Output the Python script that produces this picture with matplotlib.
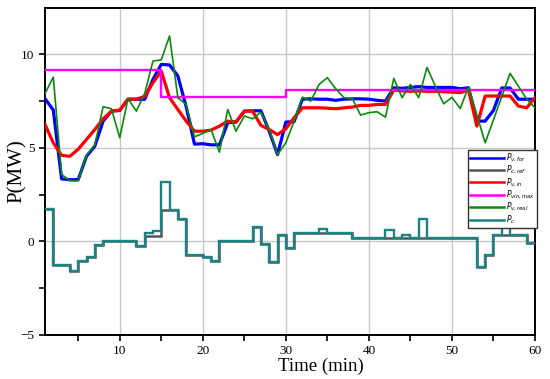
import numpy as np
import matplotlib
matplotlib.use("Agg")
import matplotlib.pyplot as plt

# time axis (min)
t = np.arange(1, 61)

# forecast / input / real vehicle power (MW)
p_v_for = [7.63, 7.02, 3.34, 3.3, 3.3, 4.55, 5.09, 6.43, 6.96, 7.0,
           7.6, 7.6, 7.59, 8.66, 9.46, 9.43, 8.84, 7.2, 5.2, 5.22,
           5.16, 5.16, 6.34, 6.38, 6.96, 6.98, 6.98, 5.89, 4.64, 6.38,
           6.4, 7.6, 7.62, 7.6, 7.6, 7.54, 7.6, 7.62, 7.62, 7.6,
           7.54, 7.5, 8.21, 8.18, 8.23, 8.27, 8.23, 8.23, 8.23, 8.23,
           8.16, 8.21, 6.43, 6.43, 7.0, 8.2, 8.2, 7.6, 7.6, 7.6]
p_v_in = [6.25, 5.27, 4.6, 4.55, 4.93, 5.45, 5.98, 6.55, 6.96, 7.02,
          7.6, 7.6, 7.75, 8.48, 9.1, 7.68, 7.05, 6.43, 5.89, 5.89,
          5.95, 6.16, 6.43, 6.38, 6.96, 6.96, 6.2, 5.98, 5.71, 6.02,
          6.61, 7.14, 7.14, 7.14, 7.12, 7.09, 7.14, 7.18, 7.27, 7.27,
          7.32, 7.32, 8.09, 8.04, 8.02, 8.04, 8.02, 8.02, 8.0, 7.98,
          7.95, 8.09, 6.16, 7.77, 7.77, 7.77, 7.77, 7.23, 7.14, 7.68]
p_v_real = [7.9, 8.78, 3.58, 3.24, 3.24, 4.6, 5.15, 7.2, 7.09, 5.54,
            7.63, 6.96, 7.9, 9.64, 9.7, 10.98, 7.68, 7.32, 5.59, 5.77,
            5.98, 4.77, 7.05, 5.89, 6.7, 6.55, 6.91, 5.98, 4.64, 5.27,
            6.43, 7.71, 7.5, 8.39, 8.75, 8.16, 7.68, 7.63, 6.75, 6.88,
            6.93, 6.64, 8.71, 7.68, 8.39, 7.68, 9.3, 8.3, 7.35, 7.7,
            7.1, 8.27, 6.77, 5.27, 6.5, 7.74, 8.98, 8.3, 7.6, 7.14]
# limit, piecewise constant
p_vin_max = [9.15] * 14 + [7.7] * 15 + [8.1] * 31

# storage power per minute interval (steps)
edges = np.arange(1, 61)
p_c = [1.73, -1.25, -1.25, -1.57, -1.02, -0.84, -0.21, 0, 0, 0,
       0, -0.23, 0.45, 0.55, 3.2, 1.7, 1.2, -0.71, -0.71, -0.84,
       -1.02, 0, 0, 0, 0, 0.77, -0.12, -1.08, 0.32, -0.36,
       0.45, 0.45, 0.45, 0.68, 0.45, 0.45, 0.45, 0.18, 0.18, 0.18,
       0.18, 0.63, 0.18, 0.32, 0.18, 1.2, 0.18, 0.18, 0.18, 0.18,
       0.18, 0.18, -1.39, -0.75, 0.36, 0.89, 0.36, 0.36, -0.09]
p_c_ref = [1.73, -1.25, -1.25, -1.57, -1.02, -0.84, -0.21, 0, 0, 0,
           0, -0.23, 0.27, 0.3, 1.7, 1.7, 1.2, -0.71, -0.71, -0.84,
           -1.02, 0, 0, 0, 0, 0.77, -0.12, -1.08, 0.32, -0.36,
           0.45, 0.45, 0.45, 0.45, 0.45, 0.45, 0.45, 0.18, 0.18, 0.18,
           0.18, 0.18, 0.18, 0.18, 0.18, 0.18, 0.18, 0.18, 0.18, 0.18,
           0.18, 0.18, -1.39, -0.75, 0.36, 0.36, 0.36, 0.36, -0.09]

plt.rcParams['mathtext.fontset'] = 'dejavusans'

fig = plt.figure(figsize=(5.5, 3.79), dpi=100)
ax = fig.add_axes([0.0818, 0.1161, 0.8909, 0.8641])

ax.plot(t, p_v_for, color='#0000ff', lw=2.3, label=r'$P_{v,for}$', zorder=3)
ax.stairs(p_c_ref, edges, baseline=None, color='#555555', lw=1.8,
          label=r'$P_{c,ref}$', zorder=3)
ax.plot(t, p_v_in, color='#ff0000', lw=2.3, label=r'$P_{v,in}$', zorder=4)
ax.step(t, p_vin_max, where='post', color='#ff00ff', lw=1.7,
        label=r'$P_{vin,max}$', zorder=4)
ax.plot(t, p_v_real, color='#0a8a0a', lw=1.2, label=r'$P_{v,real}$', zorder=5)
ax.stairs(p_c, edges, baseline=None, color='#1a8484', lw=1.7,
          label=r'$P_c$', zorder=4)

ax.set_xlim(1, 60)
ax.set_ylim(-5, 12.5)
ax.set_xticks([10, 20, 30, 40, 50, 60])
ax.set_xticks([5, 15, 25, 35, 45, 55], minor=True)
ax.set_yticks([-5, 0, 5, 10])
ax.set_yticks([-2.5, 2.5, 7.5], minor=True)
ax.grid(True, which='major', color='#c8c8c8', lw=1.0)
ax.set_axisbelow(True)

for s in ax.spines.values():
    s.set_linewidth(1.4)
ax.tick_params(which='both', direction='out', width=1.2, length=4,
               top=False, right=False)
for lab in ax.get_xticklabels() + ax.get_yticklabels():
    lab.set_fontfamily('Liberation Serif')
    lab.set_fontsize(9.5)

ax.set_xlabel('Time (min)', fontfamily='Liberation Serif', fontsize=13.5)
ax.xaxis.set_label_coords(0.563, -0.068)
ax.set_ylabel('P(MW)', fontfamily='Liberation Serif', fontsize=15)
ax.yaxis.set_label_coords(-0.037, 0.5)

leg = ax.legend(loc='upper right', bbox_to_anchor=(1.004, 0.565), borderaxespad=0,
                fontsize=5.5, fancybox=False, edgecolor='#333333', framealpha=1,
                handlelength=4.4, labelspacing=0.0, borderpad=0.25,
                handletextpad=0.3)
leg.get_frame().set_linewidth(1.0)
for h in leg.get_lines():
    h.set_linewidth(1.8)

plt.savefig('out.png', dpi=100)
